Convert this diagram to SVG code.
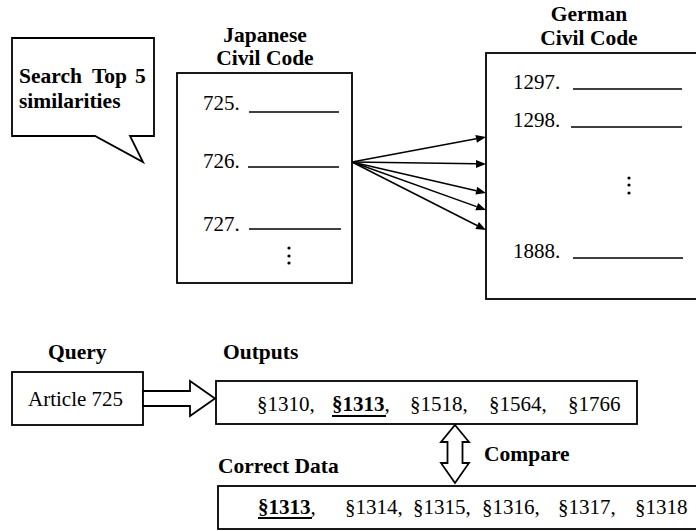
<svg xmlns="http://www.w3.org/2000/svg" width="696" height="531" viewBox="0 0 696 531">
  <rect width="696" height="531" fill="#fff"/>

  <!-- callout bubble -->
  <g id="callout">
    <polygon fill="#fff" stroke="#000" stroke-width="1.8" points="12,38 154,38 154,136 130,136 143,162 95,136 12,136"/>
    <text x="19" y="83" font-family="Liberation Serif" font-weight="bold" font-size="21.5">Search</text>
    <text x="92" y="83" font-family="Liberation Serif" font-weight="bold" font-size="21.5">Top</text>
    <text x="135" y="83" font-family="Liberation Serif" font-weight="bold" font-size="21.5">5</text>
    <text x="19" y="108" font-family="Liberation Serif" font-weight="bold" font-size="21.5">similarities</text>
  </g>

  <!-- Japanese civil code -->
  <g id="japanese">
    <text x="265" y="42" font-family="Liberation Serif" font-weight="bold" font-size="21.5" text-anchor="middle">Japanese</text>
    <text x="265" y="65" font-family="Liberation Serif" font-weight="bold" font-size="21.5" text-anchor="middle">Civil Code</text>
    <rect fill="#fff" stroke="#000" stroke-width="1.8" x="177" y="73" width="175" height="210"/>
    <text x="203" y="110" font-family="Liberation Serif" font-size="21">725.</text>
    <text x="203" y="168" font-family="Liberation Serif" font-size="21">726.</text>
    <text x="203" y="231" font-family="Liberation Serif" font-size="21">727.</text>
    <g stroke="#000" stroke-width="1.6">
      <line x1="249" y1="112" x2="339" y2="112"/>
      <line x1="248" y1="167" x2="339" y2="167"/>
      <line x1="249" y1="229" x2="341" y2="229"/>
    </g>
    <circle cx="289" cy="248" r="1.6"/>
    <circle cx="289" cy="256" r="1.6"/>
    <circle cx="289" cy="263" r="1.6"/>
  </g>

  <!-- German civil code -->
  <g id="german">
    <text x="589" y="21" font-family="Liberation Serif" font-weight="bold" font-size="21.5" text-anchor="middle">German</text>
    <text x="589" y="45" font-family="Liberation Serif" font-weight="bold" font-size="21.5" text-anchor="middle">Civil Code</text>
    <rect fill="#fff" stroke="#000" stroke-width="1.8" x="486" y="53" width="230" height="246"/>
    <text x="513" y="89" font-family="Liberation Serif" font-size="21">1297.</text>
    <text x="513" y="127" font-family="Liberation Serif" font-size="21">1298.</text>
    <text x="513" y="258" font-family="Liberation Serif" font-size="21">1888.</text>
    <g stroke="#000" stroke-width="1.6">
      <line x1="573" y1="89" x2="682" y2="89"/>
      <line x1="571" y1="127" x2="682" y2="127"/>
      <line x1="573" y1="258" x2="683" y2="258"/>
    </g>
    <circle cx="629" cy="178" r="1.6"/>
    <circle cx="629" cy="185" r="1.6"/>
    <circle cx="629" cy="193" r="1.6"/>
  </g>

  <!-- query -->
  <g id="query">
    <text x="48" y="359" font-family="Liberation Serif" font-weight="bold" font-size="21.5">Query</text>
    <rect fill="#fff" stroke="#000" stroke-width="1.8" x="12" y="372" width="131" height="53"/>
    <text x="28" y="406" font-family="Liberation Serif" font-size="21">Article 725</text>
  </g>

  <!-- outputs -->
  <g id="outputs">
    <text x="223" y="359" font-family="Liberation Serif" font-weight="bold" font-size="21.5">Outputs</text>
    <rect fill="#fff" stroke="#000" stroke-width="1.8" x="216" y="381" width="421" height="43"/>
    <text x="257" y="411" font-family="Liberation Serif" font-size="21">§1310,</text>
    <text x="332" y="411" font-family="Liberation Serif" font-size="21"><tspan font-weight="bold">§1313</tspan>,</text>
    <text x="410" y="411" font-family="Liberation Serif" font-size="21">§1518,</text>
    <text x="489" y="411" font-family="Liberation Serif" font-size="21">§1564,</text>
    <text x="568" y="411" font-family="Liberation Serif" font-size="21">§1766</text>
    <line stroke="#000" stroke-width="2" x1="332" y1="416" x2="386" y2="416"/>
  </g>

  <!-- correct data -->
  <g id="correct">
    <text x="218" y="473" font-family="Liberation Serif" font-weight="bold" font-size="21.5">Correct Data</text>
    <rect fill="#fff" stroke="#000" stroke-width="1.8" x="218" y="486" width="500" height="43"/>
    <text x="258" y="514" font-family="Liberation Serif" font-size="21"><tspan font-weight="bold">§1313</tspan>,</text>
    <text x="345" y="514" font-family="Liberation Serif" font-size="21">§1314,</text>
    <text x="413" y="514" font-family="Liberation Serif" font-size="21">§1315,</text>
    <text x="482" y="514" font-family="Liberation Serif" font-size="21">§1316,</text>
    <text x="558" y="514" font-family="Liberation Serif" font-size="21">§1317,</text>
    <text x="635" y="514" font-family="Liberation Serif" font-size="21">§1318</text>
    <line stroke="#000" stroke-width="2" x1="258" y1="518" x2="312" y2="518"/>
  </g>

  <!-- connectors: fan of arrows, then the two hollow block arrows -->
  <g id="connectors">
    <g stroke="#000" stroke-width="1.5">
      <line x1="352" y1="162" x2="476.2" y2="138.8"/>
      <line x1="352" y1="162" x2="476" y2="163.8"/>
      <line x1="352" y1="162" x2="476.3" y2="190.7"/>
      <line x1="352" y1="162" x2="476.6" y2="206.6"/>
      <line x1="352" y1="162" x2="477" y2="225.5"/>
    </g>
    <g fill="#000">
      <polygon points="486,137 476.9,142.7 475.4,134.9"/>
      <polygon points="486,164 476,168 476,160"/>
      <polygon points="486,193 475.4,194.6 477.2,186.8"/>
      <polygon points="486,210 475.3,210.3 478.2,202.9"/>
      <polygon points="486,230 475.4,229.1 478.9,221.9"/>
    </g>
    <polygon fill="#fff" stroke="#000" stroke-width="1.8" points="143,391 190,391 190,381 215,398.5 190,416 190,406 143,406"/>
    <polygon fill="#fff" stroke="#000" stroke-width="1.8" points="455,425 469,442 462.5,442 462.5,463 469,463 455,483 441,463 447.5,463 447.5,442 441,442"/>
    <text x="484" y="461" font-family="Liberation Serif" font-weight="bold" font-size="21.5">Compare</text>
  </g>
</svg>
